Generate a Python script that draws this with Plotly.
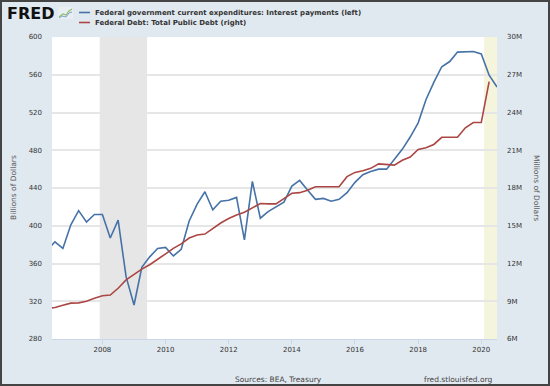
import pandas as pd
import plotly.graph_objects as go

# ---------------- data ----------------
interest_start = "2006-04-01"
interest_payments = [  # billions of dollars, quarterly (SAAR)
    374, 383, 376,
    401, 416, 404, 412,
    412, 387, 406, 346,
    316, 356, 367, 376,
    377, 368, 375, 405,
    423, 436, 417, 426,
    427, 430, 385, 447,
    408, 415, 420, 425,
    442, 448, 438, 428,
    429, 426, 428, 435,
    446, 454, 457.5, 460,
    460, 470, 481, 494,
    509, 533.5, 552, 568.5,
    574, 584, 584.5, 584.6,
    582, 559.5, 547,
]
debt_start = "2006-04-01"
public_debt = [  # millions of dollars, quarterly
    8420000, 8510000, 8680000,
    8850000, 8870000, 9000000, 9230000,
    9440000, 9490000, 10030000, 10700000,
    11130000, 11550000, 11900000, 12310000,
    12770000, 13200000, 13560000, 14020000,
    14270000, 14340000, 14790000, 15220000,
    15580000, 15860000, 16070000, 16430000,
    16770000, 16740000, 16740000, 17150000,
    17580000, 17630000, 17820000, 18100000,
    18100000, 18100000, 18100000, 18900000,
    19240000, 19370000, 19560000, 19920000,
    19850000, 19820000, 20200000, 20460000,
    21070000, 21200000, 21460000, 22030000,
    22030000, 22030000, 22780000, 23200000,
    23200000, 26460000,
]
series_names = [
    "Federal government current expenditures: Interest payments (left)",
    "Federal Debt: Total Public Debt (right)",
]
recessions = [("2007-12-01", "2009-06-01", "#e6e6e6"), ("2020-02-01", "2020-07-01", "#f5f4dc")]
x_range = ["2006-05-28", "2020-07-01"]
x_ticks = ["2008-01-01", "2010-01-01", "2012-01-01", "2014-01-01",
           "2016-01-01", "2018-01-01", "2020-01-01"]
left_range = [280, 600]
right_range = [6000000, 30000000]

interest_dates = pd.date_range(interest_start, periods=len(interest_payments), freq="QS")
debt_dates = pd.date_range(debt_start, periods=len(public_debt), freq="QS")

# ---------------- layout geometry ----------------
W, H = 550, 386
L, R, T, B = 52, 53, 37, 47
PW, PH = W - L - R, H - T - B


def px(x):
    return (x - L) / PW


def py(y):
    return (H - B - y) / PH


FONT = "DejaVu Sans"
BLUE = "#4572a7"
RED = "#aa4643"
TXT = "#333333"

fig = go.Figure()
fig.add_trace(go.Scatter(x=interest_dates, y=interest_payments, mode="lines",
                         line=dict(color=BLUE, width=1.6), name=series_names[0],
                         cliponaxis=True))
fig.add_trace(go.Scatter(x=debt_dates, y=public_debt, mode="lines", yaxis="y2",
                         line=dict(color=RED, width=1.6), name=series_names[1],
                         cliponaxis=True))

shapes = []
for a, b, c in recessions:
    shapes.append(dict(type="rect", xref="x", yref="paper", x0=a, x1=b, y0=0, y1=1,
                       fillcolor=c, line=dict(width=0), layer="below"))
# legend symbols
for i, col in enumerate([BLUE, RED]):
    yy = 12.5 + 10 * i
    shapes.append(dict(type="line", xref="paper", yref="paper",
                       x0=px(79), x1=px(90), y0=py(yy), y1=py(yy),
                       line=dict(color=col, width=1.6)))
# FRED icon
shapes.append(dict(type="rect", xref="paper", yref="paper", x0=px(58), x1=px(73),
                   y0=py(19), y1=py(7), fillcolor="#e8eef2", line=dict(width=0)))
shapes.append(dict(type="path", xref="paper", yref="paper",
                   path=f"M{px(59)},{py(17)} L{px(63)},{py(14)} L{px(66)},{py(15)} L{px(69)},{py(11)} L{px(72)},{py(9)}",
                   line=dict(color="#8fbf6a", width=1.2)))
shapes.append(dict(type="path", xref="paper", yref="paper",
                   path=f"M{px(59)},{py(18)} L{px(62)},{py(16)} L{px(66)},{py(17)} L{px(69)},{py(13)} L{px(72)},{py(12)}",
                   line=dict(color="#7fa3c8", width=1)))
# outer border
shapes.append(dict(type="rect", xref="paper", yref="paper", x0=px(1), x1=px(549),
                   y0=py(385), y1=py(1), line=dict(color="#444444", width=2)))

annotations = [
    dict(text="<b>FRED</b>", x=px(5), y=py(13), xanchor="left", yanchor="middle",
         font=dict(family=FONT, size=16, color="#111111")),
    dict(text="<b>" + series_names[0] + "</b>", x=px(93), y=py(12.5), xanchor="left",
         yanchor="middle", font=dict(family=FONT, size=7, color=TXT)),
    dict(text="<b>" + series_names[1] + "</b>", x=px(93), y=py(22.5), xanchor="left",
         yanchor="middle", font=dict(family=FONT, size=7, color=TXT)),
    dict(text="Billions of Dollars", x=px(13), y=py(188), textangle=-90,
         xanchor="center", yanchor="middle", font=dict(family=FONT, size=7.5, color="#555555")),
    dict(text="Millions of Dollars", x=px(537), y=py(188), textangle=90,
         xanchor="center", yanchor="middle", font=dict(family=FONT, size=7.5, color="#555555")),
    dict(text="Sources: BEA, Treasury", x=px(278), y=py(379), xanchor="center",
         yanchor="middle", font=dict(family=FONT, size=7.5, color="#444444")),
    dict(text="fred.stlouisfed.org", x=px(495), y=py(379), xanchor="right",
         yanchor="middle", font=dict(family=FONT, size=7.5, color="#444444")),
]
for a in annotations:
    a.update(xref="paper", yref="paper", showarrow=False)

fig.update_layout(
    width=W, height=H, autosize=False,
    margin=dict(l=L, r=R, t=T, b=B, pad=0),
    paper_bgcolor="#e1e9f0", plot_bgcolor="#ffffff",
    showlegend=False,
    font=dict(family=FONT, size=7, color=TXT),
    xaxis=dict(type="date", range=x_range, tickvals=x_ticks, tickformat="%Y",
               showgrid=False, zeroline=False, showline=True, linecolor="#ccd6eb",
               linewidth=1, ticks="outside", ticklen=4, tickcolor="#ccd6eb",
               tickfont=dict(family=FONT, size=7, color=TXT), fixedrange=True),
    yaxis=dict(range=left_range, dtick=40, showgrid=True, gridcolor="#e6e6e6",
               gridwidth=1.5, zeroline=False, showline=False, ticks="",
               ticklabelstandoff=9, tickfont=dict(family=FONT, size=7, color=TXT)),
    yaxis2=dict(range=right_range, dtick=3000000, tickformat="~s", overlaying="y",
                side="right", showgrid=False, zeroline=False, showline=False, ticks="",
                ticklabelstandoff=9, tickfont=dict(family=FONT, size=7, color=TXT)),
    shapes=shapes, annotations=annotations,
)

fig.write_html("out.html", config={"displayModeBar": False},
               post_script="document.body.style.margin='0';document.body.style.padding='0';")
